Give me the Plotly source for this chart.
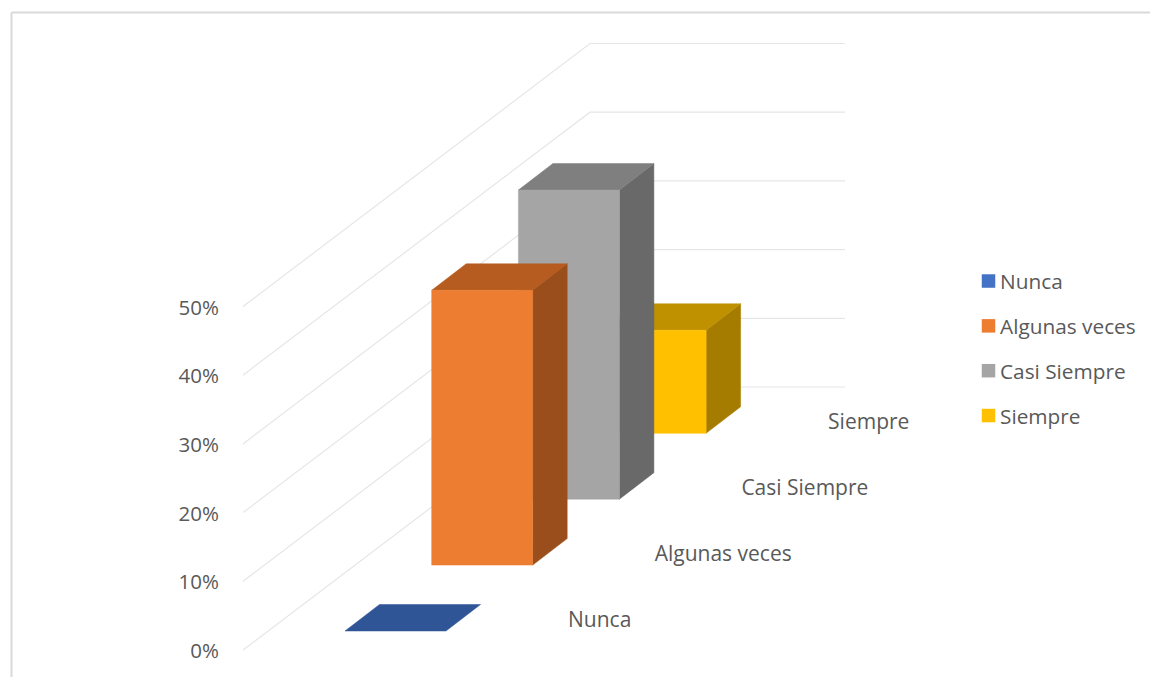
import plotly.graph_objects as go

categories = ["Nunca", "Algunas veces", "Casi Siempre", "Siempre"]
values = [0, 40, 45, 15]
ticks = [0, 10, 20, 30, 40, 50]
tick_labels = ["0%", "10%", "20%", "30%", "40%", "50%"]
front_colors = ["#4472C4", "#ED7D31", "#A5A5A5", "#FFC000"]
top_colors = ["#2F5597", "#B65C20", "#7F7F7F", "#BF9000"]
side_colors = ["#264478", "#9A4E1B", "#696969", "#A67C00"]

PX = 6.87            # pixels per percentage point
STEP_X, STEP_Y = 86.7, 65.9 / PX      # shift per category row
DEPTH_X, DEPTH_Y = 34.5, 26.5 / PX    # bar depth
BAR_W = 101.0
X0, Y0 = 345.0, 19.0 / PX             # front-left corner of first bar
WALL_X0, WALL_X1, WALL_X2 = 243.0, 590.0, 845.0
WALL_Y = 263.0 / PX
GRID = "#E6E6E6"
TEXT = "#595959"
FONT = "Open Sans"

fig = go.Figure()

# walls
for t in ticks:
    fig.add_trace(go.Scatter(
        x=[WALL_X0, WALL_X1, WALL_X2], y=[t, t + WALL_Y, t + WALL_Y],
        mode="lines", line=dict(color=GRID, width=1.2),
        showlegend=False, hoverinfo="skip"))


def face(xs, ys, color, name):
    fig.add_trace(go.Scatter(
        x=xs + xs[:1], y=ys + ys[:1], mode="lines", fill="toself",
        fillcolor=color, line=dict(color=color, width=0.5),
        showlegend=False, name=name, hoverinfo="skip"))


# bars back to front
for i in range(len(categories) - 1, -1, -1):
    v = values[i]
    x = X0 + i * STEP_X
    y = Y0 + i * STEP_Y
    name = categories[i]
    if v > 0:
        face([x + BAR_W, x + BAR_W + DEPTH_X, x + BAR_W + DEPTH_X, x + BAR_W],
             [y, y + DEPTH_Y, y + DEPTH_Y + v, y + v], side_colors[i], name)
    face([x, x + BAR_W, x + BAR_W + DEPTH_X, x + DEPTH_X],
         [y + v, y + v, y + v + DEPTH_Y, y + v + DEPTH_Y], top_colors[i], name)
    if v > 0:
        face([x, x + BAR_W, x + BAR_W, x], [y, y, y + v, y + v], front_colors[i], name)

# category labels on the floor
LAB_X0, LAB_Y0 = 568.0, 28.5 / PX
fig.add_trace(go.Scatter(
    x=[LAB_X0 + i * STEP_X for i in range(4)],
    y=[LAB_Y0 + i * STEP_Y for i in range(4)],
    mode="text", text=categories, textposition="middle right",
    textfont=dict(family=FONT, size=21, color=TEXT),
    showlegend=False, hoverinfo="skip", cliponaxis=False))

# legend entries
for i, c in enumerate(categories):
    fig.add_trace(go.Scatter(
        x=[None], y=[None], mode="markers", name=c, legendgroup=c,
        marker=dict(symbol="square", size=13.5, color=front_colors[i])))

fig.update_layout(
    width=1150, height=677, margin=dict(l=0, r=0, t=0, b=0),
    paper_bgcolor="white", plot_bgcolor="white",
    xaxis=dict(range=[0, 1150], visible=False, domain=[0, 1], fixedrange=True),
    yaxis=dict(range=[-27 / PX, 650 / PX], tickvals=ticks, ticktext=tick_labels,
               showgrid=False, zeroline=False, showline=False, ticks="",
               anchor="free", position=219 / 1150, fixedrange=True, ticklabelshift=1,
               tickfont=dict(family=FONT, size=20.5, color=TEXT)),
    legend=dict(x=960 / 1150, y=1 - 261 / 677, xanchor="left", yanchor="top",
                font=dict(family=FONT, size=20.8, color=TEXT),
                tracegroupgap=14.8, itemwidth=30, bgcolor="rgba(0,0,0,0)"),
    shapes=[
        dict(type="line", xref="paper", yref="paper", x0=11.5 / 1150, x1=1,
             y0=1 - 12.5 / 677, y1=1 - 12.5 / 677, line=dict(color="#D9D9D9", width=2)),
        dict(type="line", xref="paper", yref="paper", x0=11.5 / 1150, x1=11.5 / 1150,
             y0=0, y1=1 - 12.5 / 677, line=dict(color="#D9D9D9", width=2)),
    ],
)

post = """
document.body.style.margin='0';
document.querySelectorAll('.legendsymbols').forEach(function(e){e.setAttribute('transform','translate(8.5,0)');});
"""
fig.write_html("out.html", post_script=post, config={"displayModeBar": False})
